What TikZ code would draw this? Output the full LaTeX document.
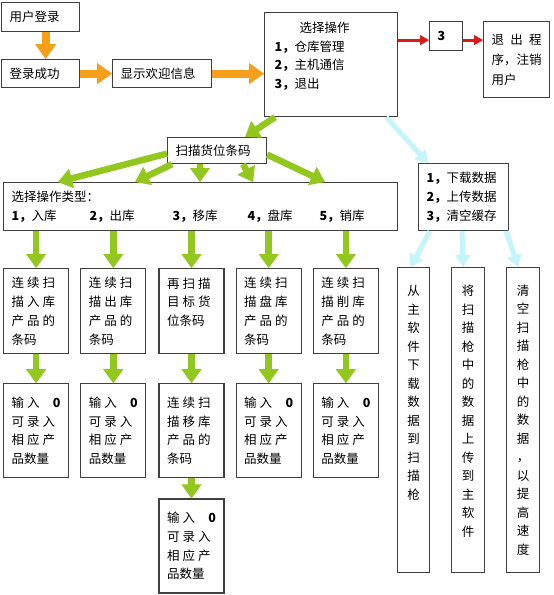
\documentclass[tikz,border=0pt]{standalone}
\usepackage{fontspec}
\setmainfont{Noto Sans CJK SC}
\usetikzlibrary{positioning, arrows.meta, calc}
\definecolor{arrorange}{RGB}{247,158,27}
\definecolor{arrgreen}{RGB}{146,200,30}
\definecolor{arrred}{RGB}{220,25,25}
\definecolor{arrcyan}{RGB}{195,245,250}
\newcommand{\gp}{\hspace{3pt}}

\begin{document}
\begin{tikzpicture}[x=1pt, y=-1pt,
    box/.style={draw=black!75, line width=1.2pt, fill=white, inner xsep=8pt, inner ysep=0pt, align=left, font=\fontsize{12.5}{18.8}\selectfont},
    cell/.style={box, text width=49pt, minimum height=#1},
    colbox/.style={box, inner xsep=0pt, text width=33pt, align=center, minimum height=305pt, anchor=north west, font=\fontsize{12.5}{18.5}\selectfont},
    orangearrow/.style={arrorange, line width=8pt, -{Triangle[length=15pt, width=21pt, line width=1pt]}},
    greenarrow/.style={arrgreen, line width=6.5pt, -{Triangle[length=14pt, width=20pt, line width=1pt]}},
    redarrow/.style={arrred, line width=3pt, -{Triangle[length=9pt, width=10pt, line width=1pt]}},
    cyanarrow/.style={arrcyan, line width=5pt, -{Triangle[length=12pt, width=15pt, line width=1pt]}},
]
    \fill[white] (0,0) rectangle (554,595);
    \useasboundingbox (0,0) rectangle (554,595);

    % login
    \node[box, text width=62pt, minimum height=29pt, anchor=north west] (login) at (1,2) {用户登录};
    \node[box, text width=62pt, minimum height=28pt, anchor=north west] (succ) at (1,59) {登录成功};
    \node[box, text width=83pt, minimum height=28pt, anchor=north west] (welcome) at (112,59) {显示欢迎信息};

    % main menu
    \node[box, text width=117pt, minimum height=104pt, anchor=north west] (menu) at (264,12)
        {\hspace*{27pt}选择操作\\\hspace*{2pt}\textbf{1，}仓库管理\\\hspace*{2pt}\textbf{2，}主机通信\\\hspace*{2pt}\textbf{3，}退出\\~};
    \node[box, text width=17pt, minimum height=29pt, anchor=north west] (three) at (429,21) {\textbf{3}};
    \node[box, text width=50pt, minimum height=76pt, anchor=north west, font=\fontsize{12.5}{20}\selectfont] (exit) at (483,21)
        {退\hfill{}出\hfill{}程\\序，注销\\用户};

    % warehouse branch
    \node[box, text width=83pt, minimum height=26pt, anchor=north west] (scan) at (167,137) {扫描货位条码};
    \node[box, text width=378pt, minimum height=48pt, anchor=north west] (types) at (3,182)
        {选择操作类型：\\\makebox[78pt][l]{\textbf{1，}入库}\makebox[83pt][l]{\textbf{2，}出库}\makebox[75pt][l]{\textbf{3，}移库}\makebox[72pt][l]{\textbf{4，}盘库}\textbf{5，}销库};

    \node[cell=85pt, anchor=north west] (r1a) at (3,268) {连\gp{}续\gp{}扫\\描\gp{}入\gp{}库\\产\gp{}品\gp{}的\\条码};
    \node[cell=85pt, right=11pt of r1a] (r1b) {连\gp{}续\gp{}扫\\描\gp{}出\gp{}库\\产\gp{}品\gp{}的\\条码};
    \node[cell=85pt, right=12pt of r1b] (r1c) {再\gp{}扫\gp{}描\\目\gp{}标\gp{}货\\位条码\\~};
    \node[cell=85pt, right=11pt of r1c] (r1d) {连\gp{}续\gp{}扫\\描\gp{}盘\gp{}库\\产\gp{}品\gp{}的\\条码};
    \node[cell=85pt, right=11pt of r1d] (r1e) {连\gp{}续\gp{}扫\\描\gp{}削\gp{}库\\产\gp{}品\gp{}的\\条码};

    \node[cell=94pt, below=29pt of r1a] (r2a) {输\gp{}入\hfill\textbf{0}\\可\gp{}录\gp{}入\\相\gp{}应\gp{}产\\品数量};
    \node[cell=94pt, below=29pt of r1b] (r2b) {输\gp{}入\hfill\textbf{0}\\可\gp{}录\gp{}入\\相\gp{}应\gp{}产\\品数量};
    \node[cell=94pt, below=29pt of r1c] (r2c) {连\gp{}续\gp{}扫\\描\gp{}移\gp{}库\\产\gp{}品\gp{}的\\条码};
    \node[cell=94pt, below=29pt of r1d] (r2d) {输\gp{}入\hfill\textbf{0}\\可\gp{}录\gp{}入\\相\gp{}应\gp{}产\\品数量};
    \node[cell=94pt, below=29pt of r1e] (r2e) {输\gp{}入\hfill\textbf{0}\\可\gp{}录\gp{}入\\相\gp{}应\gp{}产\\品数量};
    \node[cell=94pt, below=20pt of r2c] (r3) {输\gp{}入\hfill\textbf{0}\\可\gp{}录\gp{}入\\相\gp{}应\gp{}产\\品数量};

    % host communication branch
    \node[box, text width=74pt, minimum height=67pt, anchor=north west] (dl) at (418,163)
        {\textbf{1，}下载数据\\\textbf{2，}上传数据\\\textbf{3，}清空缓存};
    \node[colbox, text width=32pt] (v1) at (397,267) {从\\主\\软\\件\\下\\载\\数\\据\\到\\扫\\描\\枪\\~\\~\\~};
    \node[colbox] (v2) at (451,267) {将\\扫\\描\\枪\\中\\的\\数\\据\\上\\传\\到\\主\\软\\件\\~};
    \node[colbox] (v3) at (506,267) {清\\空\\扫\\描\\枪\\中\\的\\数\\据\\，\\以\\提\\高\\速\\度};

    % orange arrows
    \draw[orangearrow] ([xshift=5pt]login.south) -- ([xshift=5pt]succ.north);
    \draw[orangearrow] (succ) -- (welcome);
    \draw[orangearrow] (welcome.east) -- (welcome.east -| menu.west);

    % red arrows
    \draw[redarrow] ($(menu.east |- three.west)+(0,4)$) -- ($(three.west)+(0,4)$);
    \draw[redarrow] ($(three.east)+(0,4)$) -- ($(three.east -| exit.west)+(0,4)$);

    % green arrows
    \draw[greenarrow] ([xshift=11pt]menu.south west) -- ([xshift=28pt]scan.north);
    \draw[greenarrow] ([yshift=-3pt]scan.west) -- ([xshift=55pt]types.north west);
    \draw[greenarrow] ([xshift=5pt]scan.south west) -- ([xshift=132pt]types.north west);
    \draw[greenarrow] ([xshift=33pt]scan.south west) -- ([xshift=197pt]types.north west);
    \draw[greenarrow] ([xshift=76pt]scan.south west) -- ([xshift=250pt]types.north west);
    \draw[greenarrow] ([yshift=-4pt]scan.east) -- ([xshift=322pt]types.north west);
    \foreach \n in {r1a,r1b,r1c,r1d,r1e}
        \draw[greenarrow] (\n.north |- types.south) -- (\n.north);
    \foreach \m in {a,b,c,d,e}
        \draw[greenarrow] (r1\m.south) -- (r2\m.north);
    \draw[greenarrow] (r2c) -- (r3);

    % cyan arrows
    \draw[cyanarrow] ([xshift=-12pt]menu.south east) -- ([xshift=10pt]dl.north west);
    \draw[cyanarrow] ([xshift=12pt]dl.south west) -- ([xshift=-3pt]v1.north);
    \draw[cyanarrow] ([xshift=44pt]dl.south west) -- ([xshift=-5pt]v2.north);
    \draw[cyanarrow] ([xshift=-3pt]dl.south east) -- ([xshift=-5pt]v3.north);
\end{tikzpicture}
\end{document}
